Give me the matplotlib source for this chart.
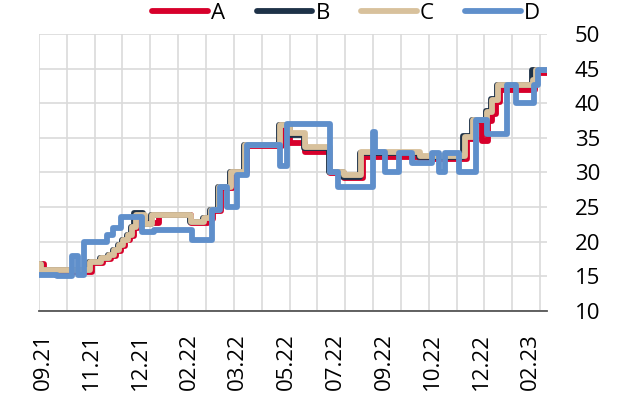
import matplotlib
matplotlib.use("Agg")
import matplotlib.pyplot as plt
from matplotlib.ticker import MultipleLocator

plt.rcParams["font.family"] = ["Open Sans", "DejaVu Sans"]

# Step series: (day index, value) breakpoints
days_A = [0, 5, 53, 64, 72, 77, 82, 87, 92, 96, 100, 121, 153, 170, 175, 183, 195, 209, 244, 253,
          268, 293, 307, 326, 383, 431, 439, 446, 452, 456, 460, 464, 499, 511]
vals_A = [16.8, 15.7, 17.0, 17.5, 18.0, 18.7, 19.4, 20.2, 20.9, 22.0, 22.7, 23.8, 22.7, 23.3, 24.5, 27.8, 30.0, 33.8, 36.8, 34.2,
          33.0, 29.9, 29.2, 32.3, 31.9, 34.9, 37.4, 34.6, 37.5, 38.5, 40.2, 41.9, 44.3, 44.3]

days_B = [0, 2, 50, 61, 69, 74, 79, 84, 89, 93, 96, 105, 113, 152, 165, 172, 180, 192, 206, 241,
          252, 267, 292, 306, 323, 382, 427, 436, 450, 455, 461, 496, 498, 511]
vals_B = [16.8, 15.9, 17.1, 17.6, 18.1, 18.8, 19.5, 20.3, 21.0, 22.2, 24.1, 22.6, 23.9, 22.9, 23.4, 24.6, 27.9, 30.1, 34.0, 36.9,
          35.4, 33.5, 30.0, 29.4, 32.8, 32.2, 35.3, 37.6, 38.9, 40.6, 42.6, 44.8, 44.8, 44.8]

days_C = [0, 2, 51, 62, 70, 75, 80, 85, 90, 94, 98, 107, 114, 153, 166, 173, 181, 193, 207, 242,
          253, 268, 293, 307, 324, 383, 429, 437, 451, 456, 462, 497, 500, 511]
vals_C = [16.8, 15.9, 17.1, 17.6, 18.1, 18.8, 19.5, 20.3, 21.0, 22.2, 23.9, 22.6, 23.9, 22.9, 23.4, 24.6, 27.9, 30.1, 34.0, 36.9,
          35.7, 33.7, 30.0, 29.6, 33.0, 32.4, 35.1, 37.6, 38.7, 40.4, 42.6, 43.4, 44.8, 44.8]

days_D = [0, 18, 33, 39, 45, 68, 74, 82, 104, 116, 154, 174, 182, 189, 199, 209, 242, 249, 293, 301,
          336, 338, 348, 362, 375, 395, 402, 408, 422, 440, 451, 471, 480, 498, 502, 511]
vals_D = [15.2, 15.1, 18.0, 15.2, 20.0, 21.0, 22.0, 23.5, 21.4, 21.7, 20.2, 24.6, 27.9, 25.0, 29.6, 33.9, 30.9, 37.0, 30.0, 27.9,
          35.8, 33.0, 30.0, 32.8, 31.4, 32.8, 30.0, 32.8, 30.0, 37.6, 35.5, 42.6, 40.0, 42.6, 44.8, 44.8]

tick_pos = [4, 53, 102, 151, 200, 249, 298, 347, 396, 445, 494]
tick_labels = ["09.21", "11.21", "12.21", "02.22", "03.22", "05.22",
               "07.22", "09.22", "10.22", "12.22", "02.23"]

series = [
    ("A", days_A, vals_A, "#d7002b"),
    ("B", days_B, vals_B, "#1e3248"),
    ("C", days_C, vals_C, "#d8c19c"),
    ("D", days_D, vals_D, "#5f8fcb"),
]

fig = plt.figure(figsize=(6.33, 4.07), dpi=100)
ax = fig.add_axes([0.0616, 0.2359, 0.8025, 0.6806])

for name, x, y, color in series:
    ax.plot(x, y, drawstyle="steps-post", color=color, lw=4.2, label=name,
            solid_joinstyle="round", solid_capstyle="round")

ax.set_xlim(0, 511)
ax.set_ylim(10, 50)
ax.set_yticks(range(10, 51, 5))
ax.set_xticks(tick_pos)
ax.set_xticklabels(tick_labels, rotation=90, fontsize=16)
ax.xaxis.set_minor_locator(MultipleLocator(28))

ax.yaxis.tick_right()
ax.tick_params(axis="y", length=0, pad=20, labelsize=16)
ax.tick_params(axis="x", which="both", length=0, pad=16)

ax.grid(False)
ax.grid(True, which="minor", axis="x", color="#dadada", lw=1.2)
ax.grid(True, which="major", axis="y", color="#dadada", lw=1.2)
ax.set_axisbelow(True)

for s in ["top", "right", "left"]:
    ax.spines[s].set_visible(False)
ax.spines["bottom"].set_color("#555555")
ax.spines["bottom"].set_linewidth(1.3)

fig.legend(loc="center", bbox_to_anchor=(0.547, 0.968), ncol=4, frameon=False,
           fontsize=16, handlelength=2.5, handletextpad=0.15, columnspacing=1.4)

fig.savefig("out.png", dpi=100)
